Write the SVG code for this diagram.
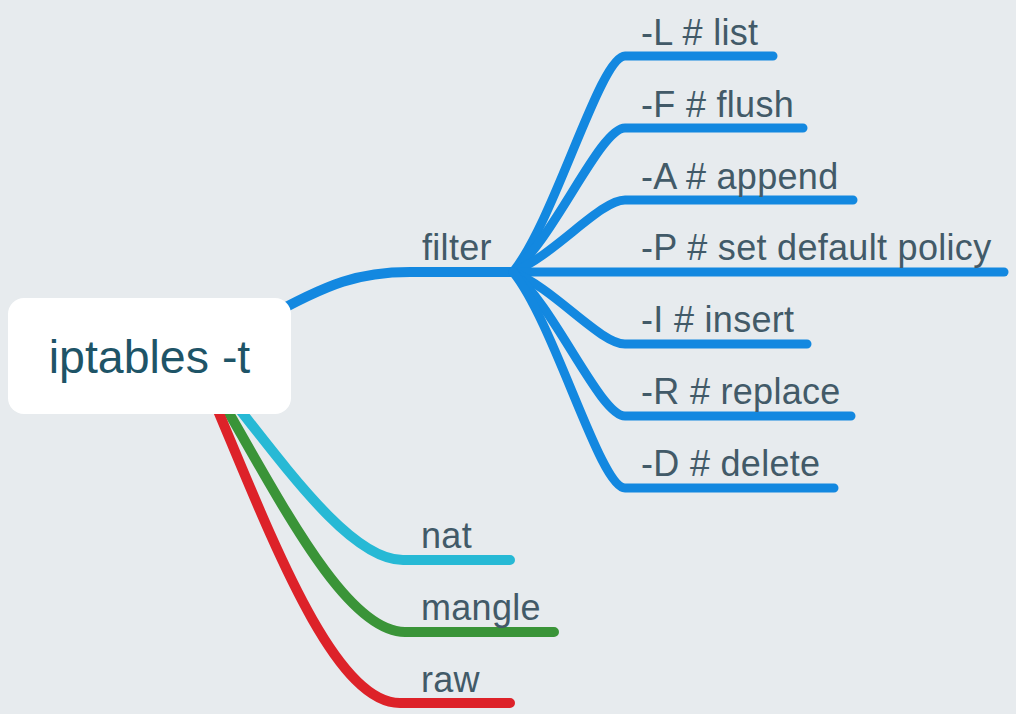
<svg xmlns="http://www.w3.org/2000/svg" width="1016" height="714" viewBox="0 0 1016 714">
<style>
.bg{fill:#E7EBEE}
.c{fill:none;stroke-linecap:round;stroke-linejoin:round}
.b1{stroke-width:10}
.b2{stroke:#1388E0;stroke-width:9}
.blue{stroke:#1388E0}
.cyan{stroke:#27B9D5}
.green{stroke:#3A9438}
.red{stroke:#DD2229}
.lbl{font-family:"Liberation Sans",Arial,Helvetica,sans-serif;font-size:36px;letter-spacing:0.3px;fill:#425A68}
.root{font-family:"Liberation Sans",Arial,Helvetica,sans-serif;font-size:46.5px;fill:#1E5467}
</style>
<rect class="bg" x="0" y="0" width="1016" height="714"/>
<g id="connectors">
<path class="c b1 blue" d="M262 320 C330 282 360 272 410 272 L513 272"/>
<path class="c b1 cyan" d="M215 378 C285 466 350 560 403 560 L510 560"/>
<path class="c b1 green" d="M210 380 C280 500 345 632 405 632 L554 632"/>
<path class="c b1 red" d="M205 380 C265 520 330 703 400 703 L510 703"/>
<path class="c b2" d="M513 272 C555 220 600 56 625 56 L773 56"/>
<path class="c b2" d="M513 272 C555 237 600 128 625 128 L803 128"/>
<path class="c b2" d="M513 272 C555 255 600 200 625 200 L853 200"/>
<path class="c b2" d="M513 272 L1004 272"/>
<path class="c b2" d="M513 272 C555 289 600 344 625 344 L807 344"/>
<path class="c b2" d="M513 272 C555 307 600 416 625 416 L851 416"/>
<path class="c b2" d="M513 272 C555 324 600 488 625 488 L834 488"/>
</g>
<g id="root">
<rect x="8" y="298" width="283" height="116" rx="16" fill="#FFFFFF"/>
<text class="root" x="149.5" y="373" text-anchor="middle">iptables -t</text>
</g>
<g id="filter"><text class="lbl" x="422" y="260">filter</text></g>
<g id="nat"><text class="lbl" x="421" y="548">nat</text></g>
<g id="mangle"><text class="lbl" x="421" y="620">mangle</text></g>
<g id="raw"><text class="lbl" x="421" y="692">raw</text></g>
<g id="opt-L"><text class="lbl" x="641" y="44.5">-L # list</text></g>
<g id="opt-F"><text class="lbl" x="641" y="116.5">-F # flush</text></g>
<g id="opt-A"><text class="lbl" x="641" y="188.5">-A # append</text></g>
<g id="opt-P"><text class="lbl" x="641" y="260">-P # set default policy</text></g>
<g id="opt-I"><text class="lbl" x="641" y="332">-I # insert</text></g>
<g id="opt-R"><text class="lbl" x="641" y="404">-R # replace</text></g>
<g id="opt-D"><text class="lbl" x="641" y="476">-D # delete</text></g>
</svg>
